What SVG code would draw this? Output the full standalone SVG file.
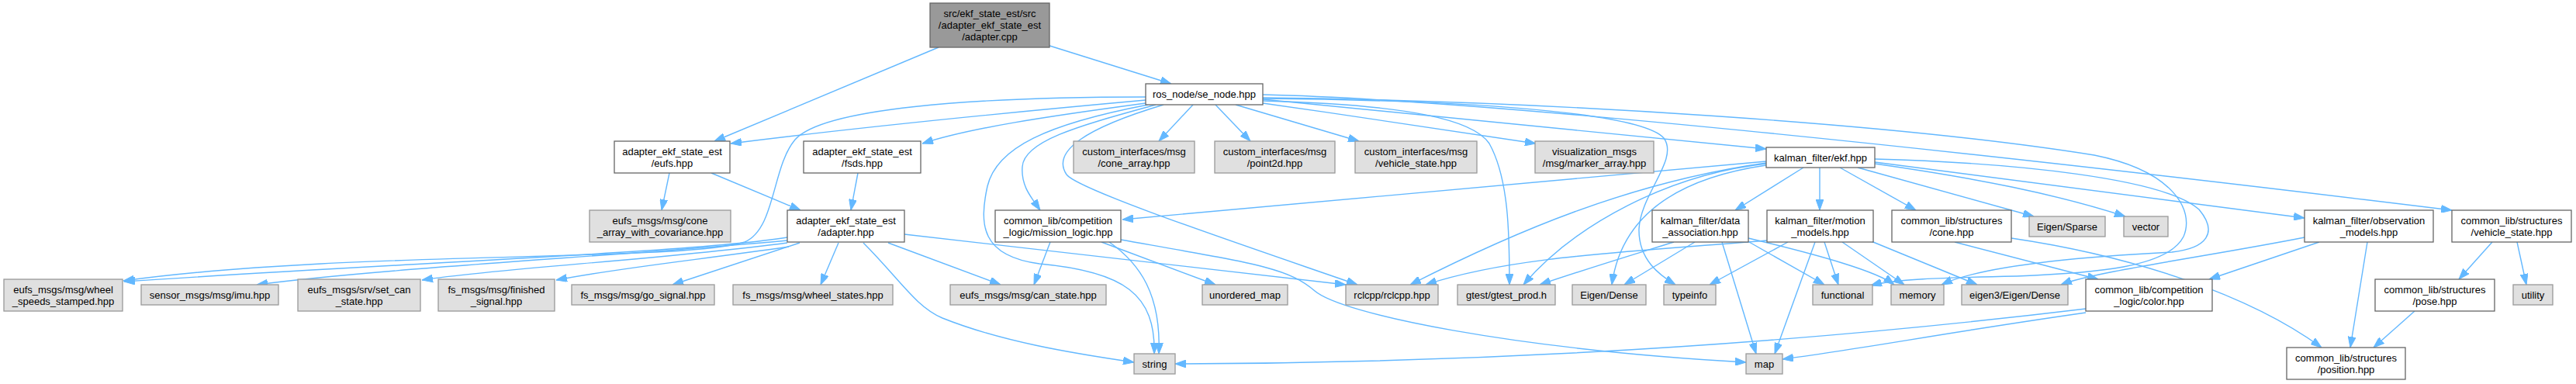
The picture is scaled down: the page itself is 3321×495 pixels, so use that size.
<svg xmlns="http://www.w3.org/2000/svg" width="3321" height="495" viewBox="0 0 3321 495">
<style>
.w rect{fill:#ffffff;stroke:#666666;stroke-width:1.3}
.g rect{fill:#e0e0e0;stroke:#999999;stroke-width:1.3}
.r rect{fill:#999999;stroke:#666666;stroke-width:1.3}
text{font-family:"Liberation Sans",Arial,Helvetica,sans-serif;font-size:13px;text-anchor:middle;fill:#000000}
#edges path{fill:none;stroke:#63b8ff;stroke-width:1.4;marker-end:url(#arr)}
</style>
<defs>
<marker id="arr" viewBox="0 0 14 10" refX="14" refY="5" markerWidth="14" markerHeight="10" markerUnits="userSpaceOnUse" orient="auto">
<path d="M0,0 L14,5 L0,10 Z" fill="#63b8ff" stroke="#63b8ff" stroke-width="1"/>
</marker>
</defs>
<rect width="3321" height="495" fill="#ffffff"/>
<g id="edges">
<path d="M1210,61 L921,182"/>
<path d="M1350,58 L1510,108"/>
<path d="M1477,129 C1300,145 1100,165 942,185"/>
<path d="M1477,133 C1350,150 1250,165 1189,185"/>
<path d="M1538,135 L1494,182"/>
<path d="M1567,135 L1612,182"/>
<path d="M1593,135 L1752,182"/>
<path d="M1628,133 C1750,150 1880,170 1980,185"/>
<path d="M1628,128 L2277,192"/>
<path d="M1477,125 C1250,125 1060,140 1025,180 C995,215 1000,295 960,312 C880,338 450,322 159,362"/>
<path d="M1015,306 C900,325 500,340 160,363"/>
<path d="M1015,310 C800,330 500,345 331,367"/>
<path d="M1015,313 C850,335 650,345 544,361"/>
<path d="M1017,318 C900,335 800,345 717,361"/>
<path d="M1031,313 L867,367"/>
<path d="M1081,313 L1058,367"/>
<path d="M1145,313 L1290,367"/>
<path d="M1113,313 C1160,360 1180,395 1215,410 C1290,440 1380,455 1462,467"/>
<path d="M1166,302 C1400,330 1600,352 1735,367"/>
<path d="M863,223 L853,271"/>
<path d="M917,223 L1032,271"/>
<path d="M1106,223 L1097,271"/>
<path d="M1490,135 C1400,160 1320,180 1318,215 C1316,240 1330,255 1341,271"/>
<path d="M1480,135 C1350,160 1285,190 1273,240 C1262,290 1265,330 1340,340 C1450,350 1490,380 1488,456"/>
<path d="M1500,135 C1400,165 1355,195 1375,225 C1390,245 1600,315 1750,367"/>
<path d="M1628,130 C1820,135 1900,155 1920,185 C1945,230 1946,300 1946,367"/>
<path d="M1628,127 C1950,130 2120,150 2145,178 C2165,205 2115,250 2113,295 C2112,335 2140,355 2160,367"/>
<path d="M1628,122 C1900,128 2500,190 3161,271"/>
<path d="M1628,126 C2000,130 2450,160 2700,200 C2800,220 2830,270 2815,305 C2795,345 2700,352 2600,356 C2500,358 2440,360 2412,368"/>
<path d="M2417,205 C2600,210 2790,230 2835,270 C2860,300 2845,320 2800,325 C2700,330 2560,340 2503,367"/>
<path d="M2277,208 L1447,283"/>
<path d="M2277,210 C2100,235 1950,300 1818,367"/>
<path d="M2277,211 C2150,225 2030,290 1964,367"/>
<path d="M2277,213 C2160,230 2090,280 2078,367"/>
<path d="M2325,216 L2237,271"/>
<path d="M2346,216 L2346,271"/>
<path d="M2372,216 L2470,271"/>
<path d="M2395,216 L2622,279"/>
<path d="M2417,211 C2550,230 2650,250 2740,279"/>
<path d="M2417,209 L2971,281"/>
<path d="M1354,312 L1333,367"/>
<path d="M1420,312 L1567,367"/>
<path d="M1430,312 C1470,340 1497,380 1494,456"/>
<path d="M1445,309 C1620,340 1660,345 1695,375 C1730,405 1950,450 2251,467"/>
<path d="M2158,312 C2100,330 2050,345 1985,367"/>
<path d="M2185,312 L2094,367"/>
<path d="M2220,312 L2264,456"/>
<path d="M2255,312 L2352,367"/>
<path d="M2254,307 C2350,330 2420,350 2442,367"/>
<path d="M2278,310 C2100,325 1950,330 1838,367"/>
<path d="M2305,312 L2204,367"/>
<path d="M2340,312 L2288,456"/>
<path d="M2352,312 L2370,367"/>
<path d="M2375,312 L2455,367"/>
<path d="M2410,310 L2549,367"/>
<path d="M2520,312 L2705,360"/>
<path d="M2593,307 C2750,330 2900,380 2993,448"/>
<path d="M2990,312 L2848,360"/>
<path d="M2971,306 C2850,330 2700,350 2657,367"/>
<path d="M3052,312 L3030,448"/>
<path d="M3213,312 L3170,360"/>
<path d="M3245,312 L3257,367"/>
<path d="M3113,401 L3060,448"/>
<path d="M2689,398 C2300,445 1900,468 1515,469"/>
<path d="M2689,403 C2500,430 2400,450 2298,463"/>
</g>
<g id="n_root" class="r"><rect x="1199" y="4" width="154" height="57"/><text x="1276" y="22">src/ekf_state_est/src</text><text x="1276" y="37">/adapter_ekf_state_est</text><text x="1276" y="52">/adapter.cpp</text></g>
<g id="n_se_node" class="w"><rect x="1477" y="108" width="151" height="27"/><text x="1552.5" y="126">ros_node/se_node.hpp</text></g>
<g id="n_eufs" class="w"><rect x="792" y="182" width="149" height="41"/><text x="866.5" y="199.5">adapter_ekf_state_est</text><text x="866.5" y="214.5">/eufs.hpp</text></g>
<g id="n_fsds" class="w"><rect x="1036" y="182" width="151" height="41"/><text x="1111.5" y="199.5">adapter_ekf_state_est</text><text x="1111.5" y="214.5">/fsds.hpp</text></g>
<g id="n_cone_array" class="g"><rect x="1384" y="182" width="156" height="41"/><text x="1462" y="199.5">custom_interfaces/msg</text><text x="1462" y="214.5">/cone_array.hpp</text></g>
<g id="n_point2d" class="g"><rect x="1566" y="182" width="155" height="41"/><text x="1643.5" y="199.5">custom_interfaces/msg</text><text x="1643.5" y="214.5">/point2d.hpp</text></g>
<g id="n_ci_vehicle_state" class="g"><rect x="1747" y="182" width="157" height="41"/><text x="1825.5" y="199.5">custom_interfaces/msg</text><text x="1825.5" y="214.5">/vehicle_state.hpp</text></g>
<g id="n_marker_array" class="g"><rect x="1979" y="182" width="153" height="41"/><text x="2055.5" y="199.5">visualization_msgs</text><text x="2055.5" y="214.5">/msg/marker_array.hpp</text></g>
<g id="n_ekf" class="w"><rect x="2277" y="190" width="140" height="26"/><text x="2347" y="207.5">kalman_filter/ekf.hpp</text></g>
<g id="n_cone_cov" class="g"><rect x="760" y="271" width="182" height="41"/><text x="851" y="288.5">eufs_msgs/msg/cone</text><text x="851" y="303.5">_array_with_covariance.hpp</text></g>
<g id="n_adapter" class="w"><rect x="1015" y="271" width="151" height="41"/><text x="1090.5" y="288.5">adapter_ekf_state_est</text><text x="1090.5" y="303.5">/adapter.hpp</text></g>
<g id="n_mission" class="w"><rect x="1283" y="271" width="162" height="41"/><text x="1364" y="288.5">common_lib/competition</text><text x="1364" y="303.5">_logic/mission_logic.hpp</text></g>
<g id="n_data_assoc" class="w"><rect x="2130" y="271" width="124" height="41"/><text x="2192" y="288.5">kalman_filter/data</text><text x="2192" y="303.5">_association.hpp</text></g>
<g id="n_motion" class="w"><rect x="2278" y="271" width="137" height="41"/><text x="2346.5" y="288.5">kalman_filter/motion</text><text x="2346.5" y="303.5">_models.hpp</text></g>
<g id="n_cone" class="w"><rect x="2439" y="271" width="154" height="41"/><text x="2516" y="288.5">common_lib/structures</text><text x="2516" y="303.5">/cone.hpp</text></g>
<g id="n_sparse" class="g"><rect x="2616" y="279" width="98" height="26"/><text x="2665" y="296.5">Eigen/Sparse</text></g>
<g id="n_vector" class="g"><rect x="2738" y="279" width="57" height="26"/><text x="2766.5" y="296.5">vector</text></g>
<g id="n_observation" class="w"><rect x="2971" y="271" width="166" height="41"/><text x="3054" y="288.5">kalman_filter/observation</text><text x="3054" y="303.5">_models.hpp</text></g>
<g id="n_vehicle_state" class="w"><rect x="3161" y="271" width="154" height="41"/><text x="3238" y="288.5">common_lib/structures</text><text x="3238" y="303.5">/vehicle_state.hpp</text></g>
<g id="n_wheel_speeds" class="g"><rect x="5" y="360" width="153" height="41"/><text x="81.5" y="377.5">eufs_msgs/msg/wheel</text><text x="81.5" y="392.5">_speeds_stamped.hpp</text></g>
<g id="n_imu" class="g"><rect x="182" y="367" width="177" height="26"/><text x="270.5" y="384.5">sensor_msgs/msg/imu.hpp</text></g>
<g id="n_set_can" class="g"><rect x="384" y="360" width="158" height="41"/><text x="463" y="377.5">eufs_msgs/srv/set_can</text><text x="463" y="392.5">_state.hpp</text></g>
<g id="n_finished" class="g"><rect x="565" y="360" width="150" height="41"/><text x="640" y="377.5">fs_msgs/msg/finished</text><text x="640" y="392.5">_signal.hpp</text></g>
<g id="n_go_signal" class="g"><rect x="737" y="367" width="184" height="26"/><text x="829" y="384.5">fs_msgs/msg/go_signal.hpp</text></g>
<g id="n_wheel_states" class="g"><rect x="945" y="367" width="206" height="26"/><text x="1048" y="384.5">fs_msgs/msg/wheel_states.hpp</text></g>
<g id="n_can_state" class="g"><rect x="1225" y="367" width="201" height="26"/><text x="1325.5" y="384.5">eufs_msgs/msg/can_state.hpp</text></g>
<g id="n_unordered_map" class="g"><rect x="1550" y="367" width="110" height="26"/><text x="1605" y="384.5">unordered_map</text></g>
<g id="n_rclcpp" class="g"><rect x="1735" y="367" width="119" height="26"/><text x="1794.5" y="384.5">rclcpp/rclcpp.hpp</text></g>
<g id="n_gtest" class="g"><rect x="1879" y="367" width="126" height="26"/><text x="1942" y="384.5">gtest/gtest_prod.h</text></g>
<g id="n_eigen_dense" class="g"><rect x="2027" y="367" width="95" height="26"/><text x="2074.5" y="384.5">Eigen/Dense</text></g>
<g id="n_typeinfo" class="g"><rect x="2145" y="367" width="67" height="26"/><text x="2178.5" y="384.5">typeinfo</text></g>
<g id="n_functional" class="g"><rect x="2337" y="367" width="77" height="26"/><text x="2375.5" y="384.5">functional</text></g>
<g id="n_memory" class="g"><rect x="2438" y="367" width="68" height="26"/><text x="2472" y="384.5">memory</text></g>
<g id="n_eigen3" class="g"><rect x="2529" y="367" width="137" height="26"/><text x="2597.5" y="384.5">eigen3/Eigen/Dense</text></g>
<g id="n_color" class="w"><rect x="2689" y="360" width="163" height="41"/><text x="2770.5" y="377.5">common_lib/competition</text><text x="2770.5" y="392.5">_logic/color.hpp</text></g>
<g id="n_pose" class="w"><rect x="3062" y="360" width="154" height="41"/><text x="3139" y="377.5">common_lib/structures</text><text x="3139" y="392.5">/pose.hpp</text></g>
<g id="n_utility" class="g"><rect x="3240" y="367" width="51" height="26"/><text x="3265.5" y="384.5">utility</text></g>
<g id="n_string" class="g"><rect x="1462" y="456" width="53" height="26"/><text x="1488.5" y="473.5">string</text></g>
<g id="n_map" class="g"><rect x="2251" y="456" width="47" height="26"/><text x="2274.5" y="473.5">map</text></g>
<g id="n_position" class="w"><rect x="2948" y="448" width="153" height="41"/><text x="3024.5" y="465.5">common_lib/structures</text><text x="3024.5" y="480.5">/position.hpp</text></g>
</svg>
